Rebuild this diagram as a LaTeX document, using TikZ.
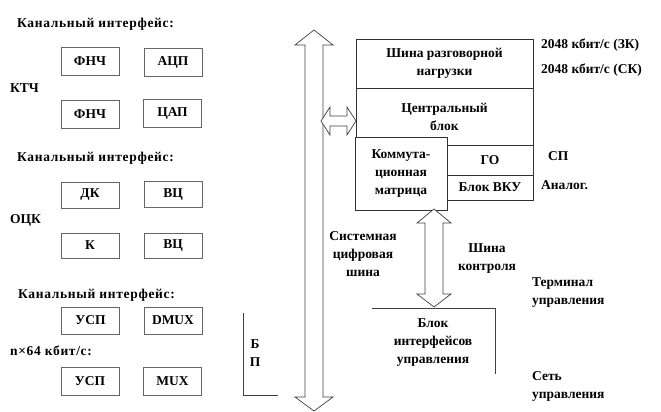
\documentclass[tikz,border=0pt]{standalone}
\usepackage{fontspec}
\setmainfont{Liberation Serif}
\newcommand{\mytxtfont}{\fontsize{13.5}{18}\selectfont\bfseries}
\begin{document}
\begin{tikzpicture}[x=1pt,y=-1pt,
  txt/.style={font=\mytxtfont, inner sep=0pt, align=center},
  htxt/.style={font=\mytxtfont\addfontfeature{LetterSpace=5}, inner sep=0pt, anchor=west},
  lbox/.style={draw=black!60, line width=0.7pt, minimum width=58pt, minimum height=28pt, inner sep=0pt, font=\mytxtfont},
  rbox/.style={draw=black!80, line width=0.7pt, fill=white, inner sep=0pt, font=\mytxtfont, align=center},
  harrow/.style={draw=black!75, line width=0.7pt, fill=white}]
\useasboundingbox (0,0) rectangle (661,412);
% left column
\node[htxt] (h1) at (17,24) {Канальный интерфейс:};
\node[lbox] (fnch1) at (90,61) {ФНЧ};
\node[lbox] (acp) at (173,62) {АЦП};
\node[txt, anchor=west] (ktch) at (10,88) {КТЧ};
\node[lbox] (fnch2) at (90,114) {ФНЧ};
\node[lbox] (cap) at (172.5,113.5) {ЦАП};
\node[htxt] (h2) at (17,158) {Канальный интерфейс:};
\node[lbox, minimum height=26pt] (dk) at (90,195) {ДК};
\node[lbox, minimum height=26pt] (vc1) at (173,194.5) {ВЦ};
\node[txt, anchor=west] (ock) at (10,220) {ОЦК};
\node[lbox, minimum height=25pt] (k) at (90,245.5) {К};
\node[lbox, minimum height=25pt] (vc2) at (173,245.5) {ВЦ};
\node[htxt] (h3) at (18,295) {Канальный интерфейс:};
\node[lbox, minimum height=27pt] (usp1) at (90.5,320.5) {УСП};
\node[lbox, minimum height=27pt] (dmux) at (173,320.5) {DMUX};
\node[htxt] (nx) at (10,351) {n×64 кбит/с:};
\node[lbox] (usp2) at (90,381) {УСП};
\node[lbox] (mux) at (172.5,381) {MUX};
\node[txt] (bp) at (255,353) {Б\\П};
\draw[draw=black!75, line width=0.7pt] (243,313) -- (243,395) -- (278,395);
% big vertical double arrow
\draw[harrow] (314,30) -- (333,45) -- (323,45) -- (323,397) -- (333,397) -- (314,411)
  -- (295,397) -- (305,397) -- (305,45) -- (295,45) -- cycle;
% right blocks
\node[rbox, minimum width=177pt, minimum height=49pt] (bus) at (444.5,63.5) {Шина разговорной\\нагрузки};
\node[rbox, minimum width=177pt, minimum height=57pt] (cb) at (444.5,116.5) {};
\node[txt] (cbt) at (444.5,117) {Центральный\\блок};
\node[rbox, minimum width=92pt, minimum height=73pt] (mat) at (401,173.5) {Коммута-\\ционная\\матрица};
\node[rbox, minimum width=86pt, minimum height=30pt] (go) at (490,160) {ГО};
\node[rbox, minimum width=86pt, minimum height=25pt] (vku) at (490,187.5) {Блок ВКУ};
% small horizontal double arrow
\draw[harrow] (321,121) -- (330,107) -- (330,116) -- (347,116) -- (347,107) -- (356,121)
  -- (347,135) -- (347,126) -- (330,126) -- (330,135) -- cycle;
% right labels
\node[txt, anchor=west] (r1) at (541,45) {2048 кбит/с (ЗК)};
\node[txt, anchor=west] (r2) at (541,70) {2048 кбит/с (СК)};
\node[txt, anchor=west] (sp) at (548,156) {СП};
\node[txt, anchor=west] (an) at (541,185) {Аналог.};
% lower arrow
\draw[harrow] (434,209) -- (451,223) -- (443,223) -- (443,294) -- (451,294) -- (434,307)
  -- (417,294) -- (425,294) -- (425,223) -- (417,223) -- cycle;
\node[txt] (sys) at (363,254) {Системная\\цифровая\\шина};
\node[txt] (kon) at (487,259) {Шина\\контроля};
% interface block
\node[txt] (ib) at (433,343) {Блок\\интерфейсов\\управления};
\draw[draw=black!75, line width=0.7pt] (372,308) -- (495,308) -- (495,374);
\node[txt, anchor=west, align=left] (term) at (532,293) {Терминал\\управления};
\node[txt, anchor=west, align=left] (net) at (532,386) {Сеть\\управления};
\end{tikzpicture}
\end{document}
